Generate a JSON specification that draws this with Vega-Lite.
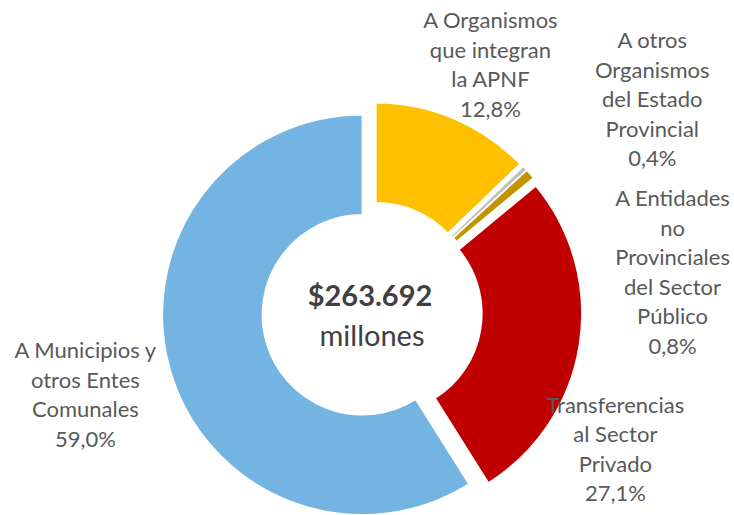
{
  "$schema": "https://vega.github.io/schema/vega-lite/v6.json",
  "width": 734,
  "height": 515,
  "autosize": "none",
  "padding": 0,
  "background": "white",
  "config": {"view": {"stroke": null}},
  "layer": [
    {
      "data": {"name": "slices", "values": [
        {"k": "A Organismos que integran la APNF", "label": "A Organismos\nque integran\nla APNF\n12,8%", "v": 12.8, "o": 1},
        {"k": "A otros Organismos del Estado Provincial", "label": "A otros\nOrganismos\ndel Estado\nProvincial\n0,4%", "v": 0.4, "o": 2},
        {"k": "A Entidades no Provinciales del Sector Público", "label": "A Entidades\nno\nProvinciales\ndel Sector\nPúblico\n0,8%", "v": 0.8, "o": 3},
        {"k": "Transferencias al Sector Privado", "label": "Transferencias\nal Sector\nPrivado\n27,1%", "v": 27.1, "o": 4},
        {"k": "A Municipios y otros Entes Comunales", "label": "A Municipios y\notros Entes\nComunales\n59,0%", "v": 59.0, "o": 5}
      ]},
      "transform": [
        {"joinaggregate": [{"op": "sum", "field": "v", "as": "total"}]},
        {"stack": "v", "groupby": [], "sort": [{"field": "o"}], "as": ["v0", "v1"]}
      ],
      "mark": {
        "type": "arc",
        "outerRadius": 200,
        "innerRadius": 100,
        "stroke": "white",
        "strokeWidth": 1.5,
        "xOffset": {"expr": "5 + 10*sin(PI*(datum.v0+datum.v1)/datum.total)"},
        "yOffset": {"expr": "54.5 - 10*cos(PI*(datum.v0+datum.v1)/datum.total)"}
      },
      "encoding": {
        "theta": {"field": "v0", "type": "quantitative", "scale": {"domain": [0, 100.1]}},
        "theta2": {"field": "v1"},
        "color": {
          "field": "k", "type": "nominal", "legend": null,
          "scale": {
            "domain": ["A Organismos que integran la APNF", "A otros Organismos del Estado Provincial", "A Entidades no Provinciales del Sector Público", "Transferencias al Sector Privado", "A Municipios y otros Entes Comunales"],
            "range": ["#FFC000", "#BFBFBF", "#C59300", "#C00000", "#74B4E3"]
          }
        }
      }
    },
    {
      "data": {"name": "slices"},
      "mark": {
        "type": "text",
        "radius": 290,
        "font": "Lato",
        "fontSize": 22,
        "lineHeight": 29.5,
        "lineBreak": "\n",
        "align": "center",
        "baseline": "middle",
        "color": "#595959",
        "xOffset": 5,
        "yOffset": 54.5,
        "dx": {"expr": "datum.o == 1 ? 5 : datum.o == 2 ? 69 : datum.o == 3 ? 82 : datum.o == 4 ? -43 : -8"},
        "dy": {"expr": "datum.o == 1 ? -24 : datum.o == 2 ? -72 : datum.o == 3 ? 78 : datum.o == 4 ? 48 : -41"}
      },
      "encoding": {
        "theta": {"field": "v", "type": "quantitative", "stack": true},
        "order": {"field": "o"},
        "text": {"field": "label"}
      }
    },
    {
      "data": {"values": [{"t": "$263.692"}]},
      "mark": {"type": "text", "font": "Lato", "fontSize": 29, "fontWeight": "bold", "color": "#404040", "align": "center", "baseline": "middle", "xOffset": 3, "yOffset": 39.5},
      "encoding": {"text": {"field": "t"}}
    },
    {
      "data": {"values": [{"t": "millones"}]},
      "mark": {"type": "text", "font": "Lato", "fontSize": 29, "color": "#404040", "align": "center", "baseline": "middle", "xOffset": 5, "yOffset": 79.5},
      "encoding": {"text": {"field": "t"}}
    }
  ]
}
